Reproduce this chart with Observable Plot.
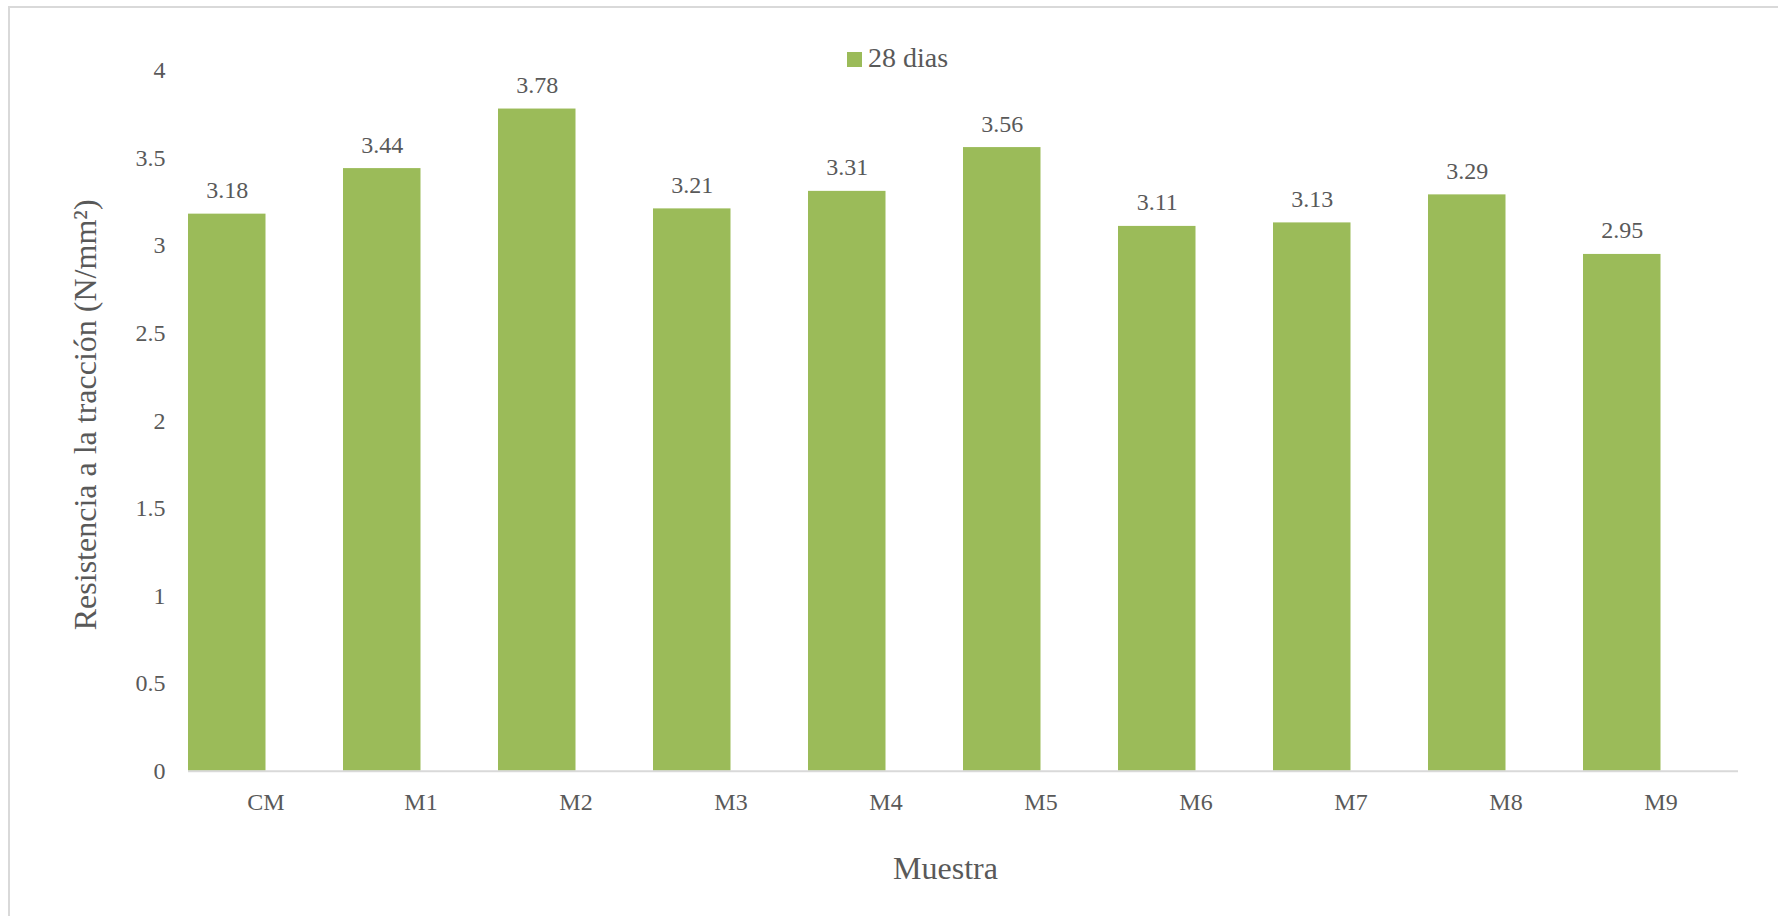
<!DOCTYPE html>
<html>
<head>
<meta charset="utf-8">
<script src="https://cdn.jsdelivr.net/npm/d3@7"></script>
<script src="https://cdn.jsdelivr.net/npm/@observablehq/plot@0.6"></script>
<style>
  html, body { margin: 0; padding: 0; background: #fff; }
  #chart { position: relative; width: 1778px; height: 916px; overflow: hidden; background: #fff; }
  #frame { position: absolute; left: 8px; top: 6px; width: 2000px; height: 2000px;
           border: 2px solid #d9d9d9; box-sizing: border-box; }
  #chart svg { position: absolute; left: 0; top: 0; }
  #legend { position: absolute; left: 847px; top: 43.5px; display: flex; align-items: baseline;
            font-family: "Liberation Serif", serif; font-size: 28px; line-height: 28px; color: #595959; }
  #legend .swatch { display: inline-block; width: 15px; height: 15px; background: #9bbb59; margin-right: 6px; }
</style>
</head>
<body>
<div id="chart">
  <div id="frame"></div>
</div>
<script>
// Tensile strength at 28 days for each mix
const muestras = ["CM", "M1", "M2", "M3", "M4", "M5", "M6", "M7", "M8", "M9"];
const resistencia28 = [3.18, 3.44, 3.78, 3.21, 3.31, 3.56, 3.11, 3.13, 3.29, 2.95];
const yTicks = [0, 0.5, 1, 1.5, 2, 2.5, 3, 3.5, 4];
const serieNombre = "28 dias";
const tituloY = "Resistencia a la tracción (N/mm²)";
const tituloX = "Muestra";

const data = muestras.map((m, i) => ({muestra: m, valor: resistencia28[i]}));

const W = 1778, H = 916;
const mL = 188, mR = 40, mT = 70, mB = 145.3;
const band = (W - mL - mR) / muestras.length;
const green = "#9bbb59";
const ink = "#595959";
const font = "Liberation Serif, serif";

const chart = Plot.plot({
  width: W,
  height: H,
  marginLeft: mL,
  marginRight: mR,
  marginTop: mT,
  marginBottom: mB,
  style: {fontFamily: font, fontSize: "24px", color: ink, background: "transparent"},
  x: {type: "band", domain: muestras, paddingInner: 0, paddingOuter: 0},
  y: {domain: [0, 4]},
  marks: [
    // bars occupy the first half of each category slot
    Plot.barY(data, {x: "muestra", y: "valor", fill: green, insetRight: band / 2}),
    Plot.ruleY([0], {stroke: "#d9d9d9", strokeWidth: 2}),
    Plot.text(data, {x: "muestra", y: "valor", text: d => d.valor.toFixed(2), dx: -band / 4, dy: -16,
                     lineAnchor: "bottom", fill: ink, fontSize: 24}),
    Plot.axisY({ticks: yTicks, tickSize: 0, tickPadding: 23, label: null, fontSize: 24,
                tickFormat: d => String(d)}),
    Plot.axisX({tickSize: 0, tickPadding: 22, label: null, fontSize: 24}),
    Plot.text([tituloY], {frameAnchor: "left", rotate: -90, dx: -93, dy: -6, lineAnchor: "bottom",
                          textAnchor: "middle", fill: ink, fontSize: 32}),
    Plot.text([tituloX], {frameAnchor: "bottom", dx: -18, dy: 107.3, lineAnchor: "bottom",
                          textAnchor: "middle", fill: ink, fontSize: 32})
  ]
});

const root = document.getElementById("chart");
root.appendChild(chart);

const legend = document.createElement("div");
legend.id = "legend";
legend.innerHTML = `<span class="swatch"></span><span>${serieNombre}</span>`;
root.appendChild(legend);
</script>
</body>
</html>
